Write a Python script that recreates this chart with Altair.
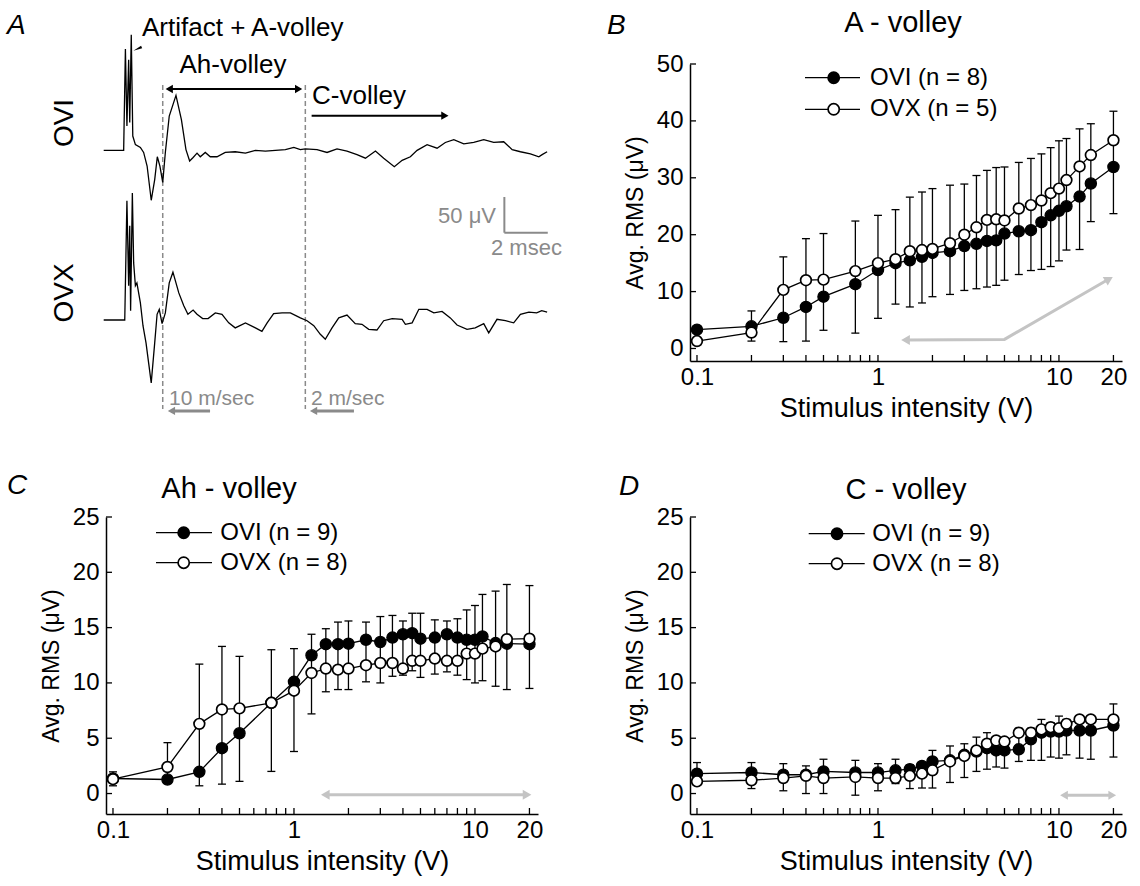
import altair as alt
import pandas as pd

FONT = "Liberation Sans"
GRAY = "#8a8a8a"
LGRAY = "#c4c4c4"

# ---------------- data: panels B, C, D ----------------
stim = [0.1, 0.2, 0.3, 0.4, 0.5, 0.75, 1, 1.25, 1.5, 1.75, 2, 2.5, 3, 3.5, 4, 4.5,
        5, 6, 7, 8, 9, 10, 11, 13, 15, 20]

b_ovi = [3.3, 3.9, 5.4, 7.3, 9.1, 11.3, 13.8, 15.0, 15.5, 16.1, 16.8, 17.1, 18.0, 18.4,
         18.9, 19.0, 20.2, 20.6, 20.8, 22.2, 23.4, 24.2, 25.0, 26.7, 29.0, 31.9]
b_ovx = [1.3, 2.8, 10.3, 12.0, 12.1, 13.6, 15.0, 15.7, 17.1, 17.3, 17.5, 18.5, 20.0, 21.3,
         22.6, 22.7, 22.5, 24.6, 25.2, 26.0, 27.3, 28.1, 29.6, 32.0, 34.0, 36.6]
b_lo = [1.0, 1.3, 1.2, 1.3, 3.2, 2.7, 5.3, 7.8, 7.3, 8.0, 9.1, 9.5, 10.2, 10.5, 10.8, 11.1,
        12.0, 13.0, 13.7, 13.9, 14.4, 15.4, 17.3, 17.4, 22.3, 23.7]
b_hi = [3.6, 6.6, 16.1, 19.3, 20.2, 22.4, 23.4, 24.4, 26.6, 27.5, 28.1, 28.7, 28.9, 30.4,
        31.3, 31.8, 31.9, 32.7, 33.4, 34.2, 35.3, 36.5, 36.9, 38.6, 39.5, 41.7]

c_ovi = [1.36, 1.27, 1.96, 4.1, 5.45, 8.2, 10.1, 12.5, 13.5, 13.5, 13.55, 13.9, 13.7, 14.1,
         14.4, 14.5, 14.0, 14.1, 14.4, 14.1, 13.9, 13.9, 14.2, 13.6, 13.55, 13.5]
c_ovx = [1.3, 2.4, 6.3, 7.6, 7.7, 8.2, 9.3, 10.9, 11.3, 11.2, 11.3, 11.6, 11.8, 11.8, 11.3,
         12.0, 12.0, 12.2, 12.0, 12.0, 12.65, 12.65, 13.1, 13.3, 13.95, 14.0]
c_lo = [0.7, 1.0, 0.7, 0.85, 1.1, 2.0, 3.8, 7.2, 9.2, 9.4, 9.4, 10.1, 10.0, 10.6, 10.7, 11.1,
        10.5, 10.8, 11.0, 10.7, 10.3, 10.0, 10.2, 9.7, 9.4, 9.5]
c_hi = [1.96, 4.6, 11.7, 13.3, 12.4, 13.0, 13.1, 14.4, 14.9, 15.5, 15.6, 15.5, 16.0, 16.1,
        15.6, 16.3, 16.3, 15.7, 15.6, 15.8, 16.6, 17.0, 18.0, 18.3, 18.9, 18.8]

d_ovi = [1.8, 1.9, 1.7, 1.7, 2.0, 1.9, 1.9, 2.1, 2.2, 2.5, 2.9, 3.0, 3.5, 3.8, 4.1, 3.9, 3.9,
         4.0, 4.9, 5.5, 5.6, 5.6, 5.7, 5.7, 5.7, 6.15]
d_ovx = [1.1, 1.2, 1.4, 1.6, 1.4, 1.5, 1.4, 1.4, 1.6, 1.8, 2.1, 2.9, 3.4, 3.9, 4.5, 4.8, 4.7,
         5.5, 5.5, 5.8, 6.0, 5.9, 6.3, 6.7, 6.7, 6.7]
d_lo = [0.85, 0.45, 0.25, 0.0, 0.0, -0.15, 0.25, 0.9, 0.45, 0.5, 0.5, 1.0, 1.45, 2.0, 2.2,
        2.4, 2.3, 2.9, 3.0, 3.0, 3.3, 3.2, 3.5, 3.2, 3.1, 3.3]
d_hi = [2.8, 2.8, 2.7, 2.5, 3.1, 3.0, 2.7, 3.1, 2.6, 2.7, 3.9, 4.3, 4.5, 5.1, 5.5, 5.1, 4.9,
        5.9, 5.9, 6.7, 6.4, 7.0, 6.7, 7.0, 6.8, 8.1]

x_tick_vals = [0.1, 0.2, 0.3, 0.4, 0.5, 0.6, 0.7, 0.8, 0.9, 1, 2, 3, 4, 5, 6, 7, 8, 9, 10, 20]
x_label_vals = [0.1, 1, 10, 20]

# gray arrows (stimulus range markers)
b_arrow_x = [1.42, 5.0, 18.9]
b_arrow_y = [1.5, 1.6, 12.2]
c_arrow_x = [1.49, 19.4]
c_arrow_y = [-0.1, -0.1]
d_arrow_x = [10.66, 19.7]
d_arrow_y = [-0.15, -0.15]

# ---------------- data: panel A traces (time in ms, voltage in µV) ----------------
ovi_t = [0, 0.92, 1.0, 1.07, 1.15, 1.2, 1.27, 1.34, 1.46, 1.69, 1.84, 2.0, 2.19, 2.35, 2.47,
         2.59, 2.72, 2.84, 3.02, 3.33, 3.58, 3.79, 3.96, 4.12, 4.30, 4.45, 4.68, 4.91, 5.22,
         5.60, 6.06, 6.53, 6.99, 7.45, 7.91, 8.37, 8.76, 9.06, 9.29, 9.83, 10.29, 10.75,
         11.21, 11.67, 12.06, 12.52, 12.90, 13.39, 13.75, 14.13, 14.44, 14.90, 15.36, 15.74,
         16.13, 16.59, 17.05, 17.51, 17.97, 18.43, 18.82, 19.20, 19.66, 20.05, 20.20, 20.43]
ovi_v = [0, 0, 142, 34, 127, 39, 162, 20, 8, 4, -3, -22, -70, -41, -9, -22, -45, -3, 48, 77,
         43, 1, -15, -10, -4, -9, -3, -9, -9, -3, -2, -4, 0, -1, 0, 1, 4, 1, 2, 1, -3, 2, -1,
         -6, -11, -1, -11, -23, -14, -9, 0, 8, 3, 11, 15, 9, 11, 15, 11, 12, 1, -2, -5, -9,
         -6, -2]
ovx_t = [0, 0.97, 1.07, 1.15, 1.2, 1.24, 1.32, 1.38, 1.46, 1.53, 1.69, 1.81, 1.95, 2.07,
         2.19, 2.35, 2.46, 2.56, 2.69, 2.84, 3.02, 3.19, 3.46, 3.69, 3.88, 4.12, 4.30, 4.56,
         4.81, 5.14, 5.45, 5.76, 6.06, 6.53, 6.99, 7.29, 7.53, 7.83, 8.22, 8.60, 9.06, 9.37,
         9.68, 9.98, 10.21, 10.52, 10.83, 11.21, 11.59, 11.90, 12.21, 12.59, 12.90, 13.29,
         13.75, 13.90, 14.21, 14.52, 14.90, 15.21, 15.59, 15.97, 16.28, 16.74, 17.12, 17.51,
         17.74, 18.12, 18.51, 18.89, 19.20, 19.59, 19.95, 20.18, 20.43]
ovx_v = [0, 0, 167, 48, 132, 13, 178, 80, 48, 52, 24, -8, -32, -60, -88, -32, 8, 15, -5, 10,
         52, 67, 38, 20, 8, 14, 8, 2, 2, 10, 8, -4, -11, -4, -11, -16, -4, 9, 10, 10, 3, -1,
         -8, -20, -27, -11, 3, 7, -5, -6, -13, -14, -1, 2, 1, -6, -4, 15, 15, 10, 12, 3, -7,
         -13, -11, -5, -18, 1, -1, -4, 8, 11, 10, 13, 11]

trace_offset = {"OVI": 0.0, "OVX": -237.7}   # vertical separation of the two sweeps
dash_t = [2.72, 9.29]                          # conduction-velocity cut-offs (ms)

W, H = 432, 297
XDOM = [0.0915, 22.3]


def one():
    return pd.DataFrame({"d": [0]})


def txt(text, x, y, size=24, align="left", baseline="alphabetic", color="black",
        angle=None, italic=False):
    kw = dict(text=text, fontSize=size, align=align, baseline=baseline, color=color,
              font=FONT)
    if angle is not None:
        kw["angle"] = angle
    if italic:
        kw["fontStyle"] = "italic"
    return alt.Chart(one()).mark_text(**kw).encode(x=alt.value(x), y=alt.value(y))


def panel(ovi, ovx, lo, hi, ydom, yvals, letter, letter_xy, title, title_xy,
          n_ovi, n_ovx, leg, arrow_x, arrow_y, head_angles, head_size):
    xs = alt.Scale(type="log", domain=XDOM, nice=False)
    ys = alt.Scale(domain=ydom, nice=False, zero=False)
    xa = alt.Axis(values=x_label_vals, format="~g", title="Stimulus intensity (V)",
                  labelPadding=4, titlePadding=6, labelFlush=False, titleFontSize=27)
    ya = alt.Axis(values=yvals, title="Avg. RMS (μV)", labelPadding=7,
                  titlePadding=9, labelFlush=False, titleFontSize=23)

    def X(f):
        return alt.X(f, scale=xs, axis=xa)

    def Y(f):
        return alt.Y(f, scale=ys, axis=ya)

    df = pd.DataFrame({"x": stim, "ovi": ovi, "ovx": ovx, "lo": lo, "hi": hi})
    base = alt.Chart(df)

    err = base.mark_rule(color="black", strokeWidth=1.3).encode(
        x=X("x:Q"), y=Y("lo:Q"), y2="hi:Q")
    cap_lo = base.mark_point(shape="stroke", size=64, strokeWidth=1.3, color="black",
                             opacity=1).encode(x=X("x:Q"), y=Y("lo:Q"))
    cap_hi = base.mark_point(shape="stroke", size=64, strokeWidth=1.3, color="black",
                             opacity=1).encode(x=X("x:Q"), y=Y("hi:Q"))
    line_ovi = base.mark_line(color="black", strokeWidth=1.3).encode(x=X("x:Q"), y=Y("ovi:Q"))
    line_ovx = base.mark_line(color="black", strokeWidth=1.3).encode(x=X("x:Q"), y=Y("ovx:Q"))
    pt_ovi = base.mark_point(shape="circle", filled=True, fill="black", stroke="black",
                             strokeWidth=1.3, size=125, opacity=1).encode(
        x=X("x:Q"), y=Y("ovi:Q"))
    pt_ovx = base.mark_point(shape="circle", filled=True, fill="white", stroke="black",
                             strokeWidth=1.7, size=115, opacity=1).encode(
        x=X("x:Q"), y=Y("ovx:Q"))

    xt = alt.Chart(pd.DataFrame({"x": x_tick_vals})).mark_rule(
        color="black", strokeWidth=1.3).encode(
        x=X("x:Q"), y=alt.value(H), y2=alt.value(H - 6))
    yt = alt.Chart(pd.DataFrame({"lo": yvals})).mark_rule(
        color="black", strokeWidth=1.3).encode(
        y=Y("lo:Q"), x=alt.value(0), x2=alt.value(6))

    adf = pd.DataFrame({"x": arrow_x, "lo": arrow_y})
    arrow = alt.Chart(adf).mark_line(color=LGRAY, strokeWidth=3).encode(
        x=X("x:Q"), y=Y("lo:Q"))
    hdf = pd.DataFrame({"x": [arrow_x[0], arrow_x[-1]], "lo": [arrow_y[0], arrow_y[-1]],
                        "a": head_angles})
    heads = alt.Chart(hdf).mark_point(shape="triangle-up", filled=True, color=LGRAY,
                                      size=head_size, opacity=1).encode(
        x=X("x:Q"), y=Y("lo:Q"), angle=alt.Angle("a:Q", scale=None))

    lx1, lx2, mx, tx, ly1, ly2 = leg
    legend = []
    for ly, filled, lab in [(ly1, "black", n_ovi), (ly2, "white", n_ovx)]:
        legend.append(alt.Chart(one()).mark_rule(color="black", strokeWidth=1.3).encode(
            x=alt.value(lx1), x2=alt.value(lx2), y=alt.value(ly)))
        legend.append(alt.Chart(one()).mark_point(
            shape="circle", filled=True, fill=filled, stroke="black", strokeWidth=1.7,
            size=125, opacity=1).encode(x=alt.value(mx), y=alt.value(ly)))
        legend.append(txt(lab, tx, ly, size=24, baseline="middle"))

    layers = [err, arrow, heads, xt, yt, cap_lo, cap_hi, line_ovi, line_ovx, pt_ovi, pt_ovx]
    layers += legend
    layers.append(txt(letter, letter_xy[0], letter_xy[1], size=28, italic=True))
    layers.append(txt(title, title_xy[0], title_xy[1], size=29, align="center"))
    return alt.layer(*layers).properties(width=W, height=H)


# ---------------- panel A ----------------
def panel_a():
    xs = alt.Scale(domain=[0.106, 20.01], nice=False, zero=False)
    ys = alt.Scale(domain=[-295.1, 120.9], nice=False, zero=False)
    rows = []
    for name, ts, vs in [("OVI", ovi_t, ovi_v), ("OVX", ovx_t, ovx_v)]:
        for t, v in zip(ts, vs):
            rows.append({"trace": name, "t": t, "vp": v + trace_offset[name]})
    tdf = pd.DataFrame(rows)

    def X(f):
        return alt.X(f, scale=xs, axis=None)

    def Y(f):
        return alt.Y(f, scale=ys, axis=None)

    traces = alt.Chart(tdf).mark_line(color="black", strokeWidth=1.3).encode(
        x=X("t:Q"), y=Y("vp:Q"), detail="trace:N")
    dashes = alt.Chart(pd.DataFrame({"t": dash_t, "vp": [91.5, 91.5],
                                     "bot": [-362.3, -362.3]})).mark_rule(
        color=GRAY, strokeWidth=1.5, strokeDash=[5, 3]).encode(
        x=X("t:Q"), y=Y("vp:Q"), y2="bot:Q")

    # black annotation arrows
    ah = alt.Chart(pd.DataFrame({"t": [2.95], "t2": [9.05], "vp": [85.9]})).mark_rule(
        color="black", strokeWidth=2).encode(x=X("t:Q"), x2="t2:Q", y=Y("vp:Q"))
    cv = alt.Chart(pd.DataFrame({"t": [9.58], "t2": [15.7], "vp": [48.5]})).mark_rule(
        color="black", strokeWidth=2).encode(x=X("t:Q"), x2="t2:Q", y=Y("vp:Q"))
    bheads = alt.Chart(pd.DataFrame({"t": [3.02, 8.98, 15.72], "vp": [85.9, 85.9, 48.5],
                                     "a": [270, 90, 90]})).mark_point(
        shape="triangle-up", filled=True, color="black", size=70, opacity=1).encode(
        x=X("t:Q"), y=Y("vp:Q"), angle=alt.Angle("a:Q", scale=None))
    pointer = alt.Chart(pd.DataFrame({"t": [1.62], "vp": [143], "a": [245]})).mark_point(
        shape="wedge", filled=True, color="black", size=110, opacity=1).encode(
        x=X("t:Q"), y=Y("vp:Q"), angle=alt.Angle("a:Q", scale=None))

    # gray conduction-velocity arrows
    garr = alt.Chart(pd.DataFrame({"t": [3.1, 9.65], "t2": [4.9, 11.53],
                                   "vp": [-365, -365]})).mark_rule(
        color=GRAY, strokeWidth=3).encode(x=X("t:Q"), x2="t2:Q", y=Y("vp:Q"))
    gheads = alt.Chart(pd.DataFrame({"t": [3.12, 9.67], "vp": [-365, -365],
                                     "a": [270, 270]})).mark_point(
        shape="triangle-up", filled=True, color=GRAY, size=70, opacity=1).encode(
        x=X("t:Q"), y=Y("vp:Q"), angle=alt.Angle("a:Q", scale=None))

    # scale bar: 2 ms x 50 µV
    sb = pd.DataFrame({"t": [18.46], "t2": [20.46], "vp": [-115.4], "v2": [-65.4]})
    sbv = alt.Chart(sb).mark_rule(color=GRAY, strokeWidth=2).encode(
        x=X("t:Q"), y=Y("vp:Q"), y2="v2:Q")
    sbh = alt.Chart(sb).mark_rule(color=GRAY, strokeWidth=2).encode(
        x=X("t:Q"), x2="t2:Q", y=Y("vp:Q"))

    texts = [
        txt("A", -99, -30, size=28, italic=True),
        txt("Artifact + A-volley", 36, -28, size=26),
        txt("Ah-volley", 127, 9, size=26, align="center"),
        txt("C-volley", 206, 40, size=26),
        txt("OVI", -41, 59, size=28, align="center", baseline="middle", angle=270),
        txt("OVX", -41, 229, size=28, align="center", baseline="middle", angle=270),
        txt("50 μV", 390, 152, size=22, align="right", baseline="middle", color=GRAY),
        txt("2 msec", 385, 191, size=22, color=GRAY),
        txt("10 m/sec", 63, 341, size=21, color=GRAY),
        txt("2 m/sec", 205, 341, size=21, color=GRAY),
    ]
    return alt.layer(dashes, traces, ah, cv, bheads, pointer, garr, gheads, sbv, sbh,
                     *texts).properties(width=W, height=H)


pa = panel_a()
pb = panel(b_ovi, b_ovx, b_lo, b_hi, [-2.2, 50], [0, 10, 20, 30, 40, 50],
           "B", (-83, -30), "A - volley", (213, -32), "OVI (n = 8)", "OVX (n = 5)",
           (115, 170, 143.7, 180, 13.7, 45.3), b_arrow_x, b_arrow_y, [270, 60], 100)
pc = panel(c_ovi, c_ovx, c_lo, c_hi, [-1.85, 25], [0, 5, 10, 15, 20, 25],
           "C", (-99, -23), "Ah - volley", (123, -19), "OVI (n = 9)", "OVX (n = 8)",
           (50, 106, 77.7, 114.3, 15.7, 45.7), c_arrow_x, c_arrow_y, [270, 90], 100)
pd_ = panel(d_ovi, d_ovx, d_lo, d_hi, [-1.85, 25], [0, 5, 10, 15, 20, 25],
            "D", (-71, -22), "C - volley", (216, -18), "OVI (n = 9)", "OVX (n = 8)",
            (118.7, 174.7, 147, 182.3, 16.7, 46.7), d_arrow_x, d_arrow_y, [270, 90], 80)

chart = alt.concat(pa, pb, pc, pd_, columns=2, spacing={"row": 156, "column": 152},
                   bounds="flush").properties(
    padding={"left": 7, "top": 9, "right": 5, "bottom": 5},
    background="white",
).configure_view(strokeWidth=0).configure_axis(
    domainColor="black", domainWidth=1.5, labelColor="black", labelFontSize=24,
    labelFont=FONT, titleFont=FONT, titleFontSize=25, titleFontWeight="normal",
    titleColor="black", ticks=False, grid=False,
)

chart.save("out.html", embed_options={"renderer": "svg", "actions": False})
